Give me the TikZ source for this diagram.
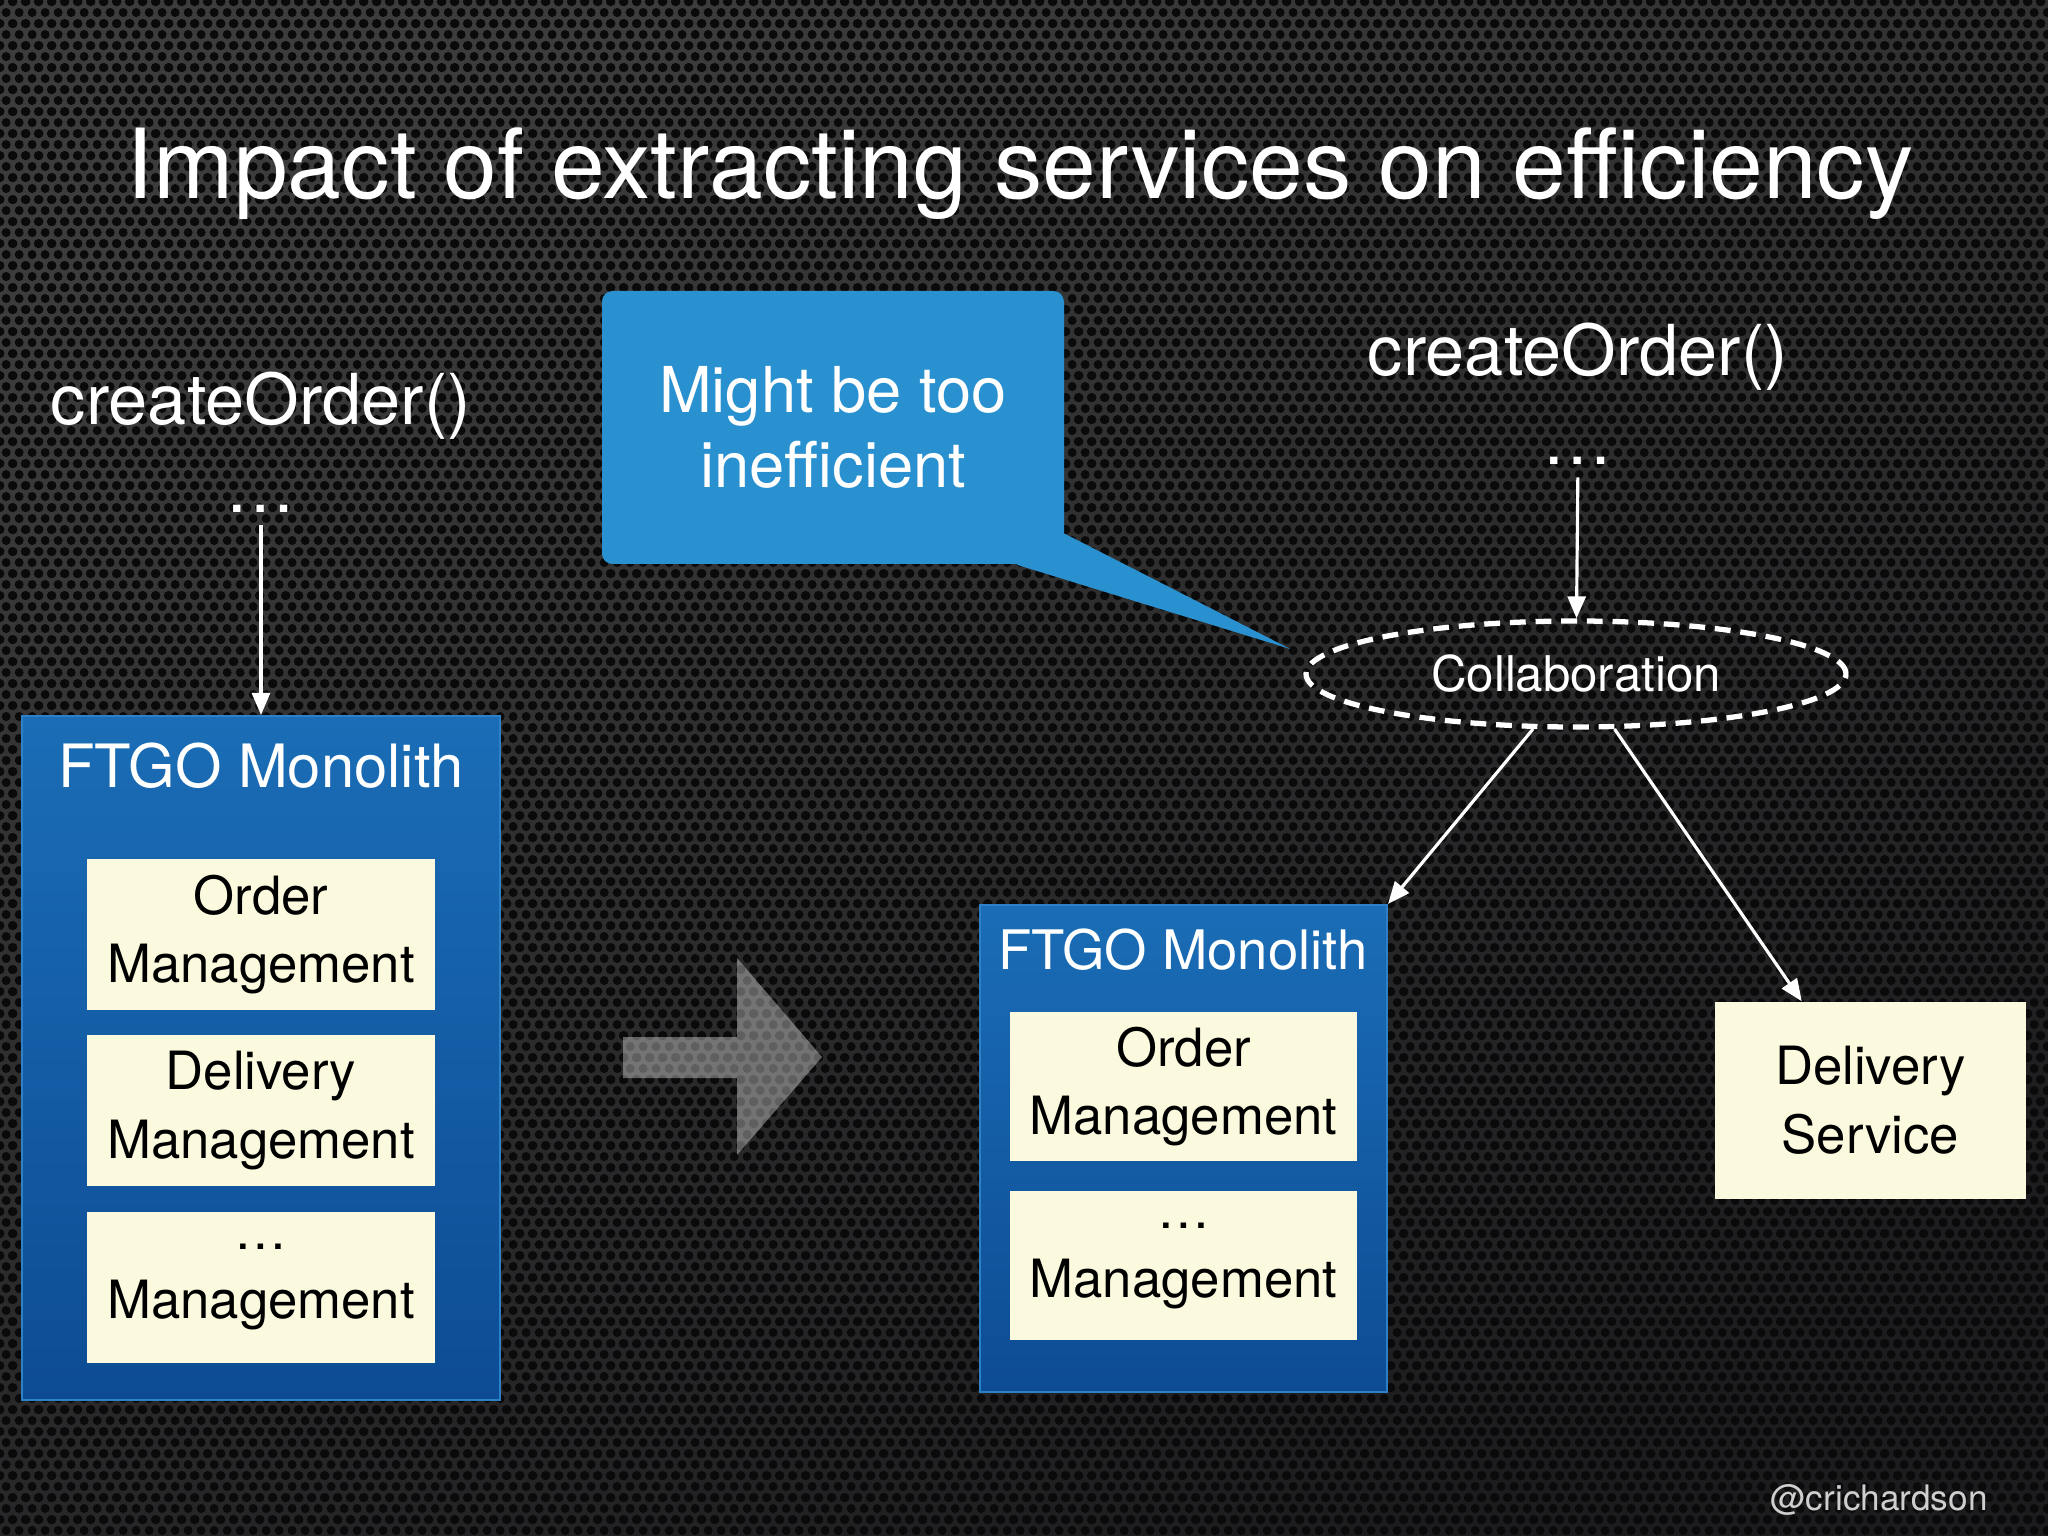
\documentclass[tikz,border=0pt]{standalone}
\usepackage{fontspec}
\setmainfont{TeX Gyre Heros}
\usetikzlibrary{arrows.meta,positioning,calc,shapes.geometric,patterns.meta}
\definecolor{bgtop}{HTML}{3C3C3C}
\definecolor{bgbot}{HTML}{1C1C1E}
\definecolor{holecol}{HTML}{0A0A0B}
\definecolor{ftgotop}{HTML}{1A6DB6}
\definecolor{ftgobot}{HTML}{0D4C94}
\definecolor{ftgoedge}{HTML}{2C80C8}
\definecolor{modfill}{HTML}{FBF9DE}
\definecolor{bubblecol}{HTML}{2A91D1}
\definecolor{handlecol}{HTML}{CFCFCF}
\tikzdeclarepattern{name=perforated, type=uncolored,
  bottom left={(0pt,0pt)}, top right={(3.6pt,6.24pt)}, tile size={(3.6pt,6.24pt)},
  code={\fill (1.8pt,1.56pt) circle (1.3pt);
        \fill (0pt,4.68pt) circle (1.3pt);
        \fill (3.6pt,4.68pt) circle (1.3pt);}}
\tikzset{
  titletext/.style={text=white, font=\fontsize{27.5}{32}\selectfont},
  calltext/.style={text=white, font=\fontsize{20}{24}\selectfont},
  monobox/.style={top color=ftgotop, bottom color=ftgobot, draw=ftgoedge, line width=0.6pt},
  monotitle/.style={text=white, font=\fontsize{17}{20}\selectfont},
  modbox/.style={fill=modfill, text=black, align=center, inner sep=0pt,
                 minimum width=3.48cm, minimum height=1.51cm,
                 font=\fontsize{15}{19.6}\selectfont},
  bubblebox/.style={fill=bubblecol, rounded corners=3pt, text=white, align=center,
                    font=\fontsize{18}{21.5}\selectfont},
  collab/.style={ellipse, draw=white, line width=1.5pt, dash pattern=on 4.5pt off 2.8pt,
                 minimum width=5.4cm, minimum height=1.06cm, inner sep=0pt,
                 text=white, font=\fontsize{14}{16}\selectfont},
  bigarrow/.style={fill=white, fill opacity=0.35},
  arr/.style={-{Triangle[length=2.2mm,width=1.8mm]}, line width=0.9pt, color=white},
  signature/.style={text=handlecol, font=\fontsize{10}{12}\selectfont}}
\begin{document}
\begin{tikzpicture}
  % perforated backdrop
  \fill[top color=bgtop, bottom color=bgbot, shading angle=25] (0,0) rectangle (20.48,-15.36);
  \fill[pattern=perforated, pattern color=holecol] (0,0) rectangle (20.48,-15.36);
  \useasboundingbox (0,0) rectangle (20.48,-15.36);

  \node[titletext, anchor=base] (title) at (10.2,-1.985) {Impact of extracting services on efficiency};

  % before: the monolith
  \node[calltext, anchor=base] (callL) at (2.61,-4.24) {createOrder()};
  \node[calltext, anchor=base] (dotsL) at (2.61,-5.13) {\ldots};
  \node[monobox, minimum width=4.78cm, minimum height=6.84cm] (monoL) at (2.61,-10.58) {};
  \node[monotitle, anchor=base] (monoLtitle) at (2.61,-7.875) {FTGO Monolith};
  \node[modbox] (orderL) at (2.61,-9.345) {Order\\Management};
  \node[modbox, below=0.24cm of orderL] (deliveryL) {Delivery\\Management};
  \node[modbox, below=0.24cm of deliveryL] (otherL) {\ldots\\Management};
  \draw[arr] (dotsL) -- (monoL);

  \fill[bigarrow] (6.23,-10.37) -- (7.37,-10.37) -- (7.37,-9.58) -- (8.22,-10.57)
    -- (7.37,-11.55) -- (7.37,-10.78) -- (6.23,-10.78) -- cycle;

  % after: monolith plus delivery service
  \node[calltext, anchor=base] (callR) at (15.78,-3.76) {createOrder()};
  \node[calltext, anchor=base] (dotsR) at (15.78,-4.65) {\ldots};
  \node[collab] (collab) at (15.76,-6.74) {Collaboration};
  \draw[arr] (dotsR) -- (collab);

  \node[monobox, minimum width=4.07cm, minimum height=4.87cm] (monoR) at (11.835,-11.485) {};
  \node[monotitle, font=\fontsize{15.5}{18}\selectfont, anchor=base] (monoRtitle) at (11.83,-9.69) {FTGO Monolith};
  \node[modbox, minimum width=3.47cm, minimum height=1.49cm] (orderR) at (11.835,-10.865) {Order\\Management};
  \node[modbox, minimum width=3.47cm, minimum height=1.49cm, below=0.29cm of orderR] (otherR) {\ldots\\Management};
  \node[modbox, minimum width=3.11cm, minimum height=1.97cm] (delivery) at (18.705,-11.005) {Delivery\\Service};

  \draw[arr] (collab.232) -- (monoR.north east);
  \draw[arr] (collab.-55) -- ($(delivery.north west)!0.28!(delivery.north east)$);

  % callout
  \node[bubblebox, minimum width=4.62cm, minimum height=2.73cm] (bubble) at (8.33,-4.275) {Might be too\\inefficient};
  \coordinate (tip) at ($(collab.west)+(-0.13,0.25)$);
  \fill[bubblecol] ($(bubble.south east)+(0,0.31)$) -- (tip) -- ($(bubble.south east)+(-0.48,0)$) -- cycle;

  \node[signature, anchor=base east] (handle) at (20.0,-15.1) {@crichardson};
\end{tikzpicture}
\end{document}
